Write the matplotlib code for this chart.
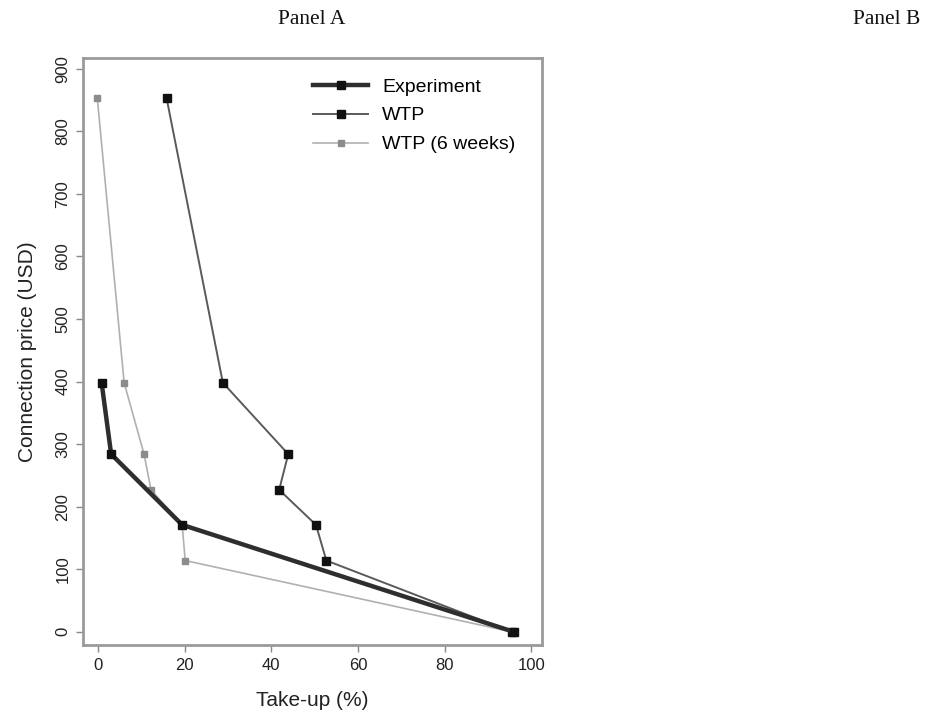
import matplotlib
matplotlib.use("Agg")
import matplotlib.pyplot as plt

# Data
exp_takeup = [96, 19.4, 3, 0.8]
exp_price = [0, 171, 284, 398]

wtp_takeup = [95.5, 52.7, 50.3, 41.8, 43.9, 28.8, 15.8]
wtp_price = [0, 114, 171, 227, 284, 398, 853]

wtp6_takeup = [95.5, 20.1, 19.4, 12.2, 10.6, 6.0, -0.2]
wtp6_price = [0, 114, 171, 227, 284, 398, 853]

xticks = [0, 20, 40, 60, 80, 100]
yticks = [0, 100, 200, 300, 400, 500, 600, 700, 800, 900]

plt.rcParams['font.family'] = ['Liberation Sans', 'DejaVu Sans']

fig = plt.figure(figsize=(9.28, 7.17), dpi=100)
ax = fig.add_axes([83/928, 1-645/717, 459/928, 587/717])

ax.plot(wtp6_takeup, wtp6_price, color='#b0b0b0', lw=1.2, marker='s', ms=5,
        mfc='#8c8c8c', mec='#8c8c8c', label='WTP (6 weeks)', zorder=2)
ax.plot(wtp_takeup, wtp_price, color='#5a5a5a', lw=1.4, marker='s', ms=6.2,
        mfc='#111111', mec='#111111', label='WTP', zorder=3)
ax.plot(exp_takeup, exp_price, color='#2e2e2e', lw=3.2, marker='s', ms=6.2,
        mfc='#111111', mec='#111111', label='Experiment', zorder=4)

ax.set_xlim(-3.5, 102.5)
ax.set_ylim(-21, 917)
ax.set_xticks(xticks)
ax.set_yticks(yticks)
ax.set_xticklabels([str(t) for t in xticks], fontsize=12, color='#222222')
ax.set_yticklabels([str(t) for t in yticks], fontsize=12, color='#222222',
                   rotation=90, va='center')
ax.tick_params(axis='both', length=5, width=1, color='#888888', pad=4)
for s in ax.spines.values():
    s.set_color('#9a9a9a')
    s.set_linewidth(2)

ax.set_xlabel('Take-up (%)', fontsize=15, color='#222222', labelpad=13)
ax.set_ylabel('Connection price (USD)', fontsize=15, color='#222222', labelpad=13)

handles, labels = ax.get_legend_handles_labels()
order = [2, 1, 0]
leg = ax.legend([handles[i] for i in order], [labels[i] for i in order],
                loc='upper left', bbox_to_anchor=(0.501, 0.966), frameon=False,
                fontsize=14, handlelength=2.85, handletextpad=0.7,
                labelspacing=0.58, borderpad=0, borderaxespad=0)

fig.text(312/928, 1-20/717, 'Panel A', family='Liberation Serif', fontsize=15.5,
         ha='center', va='center', color='#111111')
fig.text(887/928, 1-20/717, 'Panel B', family='Liberation Serif', fontsize=15.5,
         ha='center', va='center', color='#111111')

fig.savefig('out.png', dpi=100)
